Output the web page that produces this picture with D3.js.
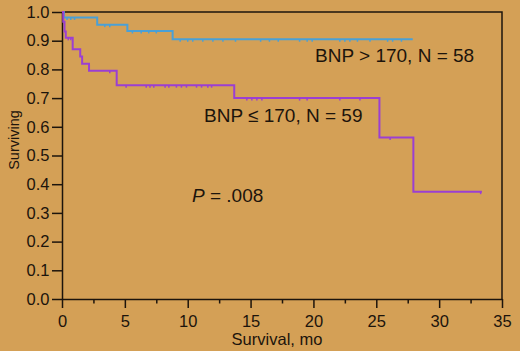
<!DOCTYPE html>
<html>
<head>
<meta charset="utf-8">
<script src="https://cdn.jsdelivr.net/npm/d3@7"></script>
<style>
  body { margin: 0; background: #d4a056; }
  svg { display: block; }
</style>
</head>
<body>
<div id="chart"></div>
<script>
var w = 520;
var h = 351;

var bg = "#d4a056";
var ink = "#1c140c";
var blue = "#4aa0d6";
var purple = "#9b3fd2";

// BNP > 170 (N = 58): step times and survival
var highTimes = [0, 0.15, 2.8, 5.2, 8.8];
var highSurv = [1.0, 0.981, 0.956, 0.934, 0.905];
var highEnd = 27.9;
var highCensor = [0.4, 0.7, 1.0, 3.4, 3.8, 5.6, 6.3, 6.9, 7.5, 9.4, 10.0, 10.4, 11.2, 12.0, 12.8,
                  13.8, 15.8, 16.5, 17.2, 18.9, 19.5, 19.9, 22.1, 22.5, 22.9, 23.5, 24.5, 25.9, 26.3, 27.0];

// BNP <= 170 (N = 59)
var lowTimes = [0, 0.1, 0.2, 0.3, 0.85, 1.45, 1.6, 2.15, 4.35, 13.7, 25.25, 27.95];
var lowSurv = [1.0, 0.966, 0.932, 0.91, 0.87, 0.845, 0.82, 0.795, 0.745, 0.70, 0.563, 0.374];
var lowEnd = 33.4;
var lowCensor = [0.5, 0.7, 3.8, 5.1, 6.7, 7.0, 7.3, 8.2, 8.5, 9.1, 9.5, 9.9, 10.7, 11.1, 11.6, 11.9,
                 14.7, 15.1, 15.5, 15.9, 18.9, 19.5, 22.1, 23.7, 26.1, 33.3];

var xMajor = [0, 5, 10, 15, 20, 25, 30, 35];
var xMinor = [2.5, 7.5, 12.5, 17.5, 22.5, 27.5, 32.5];
var yTicks = [0, 0.1, 0.2, 0.3, 0.4, 0.5, 0.6, 0.7, 0.8, 0.9, 1.0];

var xScale = d3.scaleLinear().domain([0, 35]).range([62, 502]);
var yScale = d3.scaleLinear().domain([0, 1]).range([299, 12]);

var svg = d3.select("#chart")
            .append("svg")
            .attr("width", w)
            .attr("height", h)
            .style("font-family", "'Liberation Sans', Arial, sans-serif");

svg.append("rect").attr("width", w).attr("height", h).attr("fill", bg);

// frame top + right
svg.append("path")
   .attr("d", "M" + xScale(0) + "," + yScale(1) + "H" + xScale(35) + "V" + yScale(0))
   .attr("fill", "none")
   .attr("stroke", ink)
   .attr("stroke-width", 1.5);

// axes
svg.append("g")
   .attr("transform", "translate(0," + yScale(0) + ")")
   .call(d3.axisBottom(xScale).tickValues(xMajor).tickSize(9).tickSizeOuter(0).tickPadding(7)
         .tickFormat(d3.format("d")));
svg.append("g")
   .attr("transform", "translate(0," + yScale(0) + ")")
   .call(d3.axisBottom(xScale).tickValues(xMinor).tickSize(4.5).tickSizeOuter(0).tickFormat(""))
   .select(".domain").remove();
svg.append("g")
   .attr("transform", "translate(" + xScale(0) + ",0)")
   .call(d3.axisLeft(yScale).tickValues(yTicks).tickSize(10).tickSizeOuter(0).tickPadding(2.5)
         .tickFormat(d3.format(".1f")));

svg.selectAll(".domain, .tick line").attr("stroke", ink).attr("stroke-width", 1.5);
svg.selectAll(".tick text").attr("fill", ink).attr("font-size", "16.5px")
   .attr("font-family", "'Liberation Sans', Arial, sans-serif");

// step curves
function stepData(times, surv, end) {
  var pts = times.map(function(t, i) { return [t, surv[i]]; });
  pts.push([end, surv[surv.length - 1]]);
  return pts;
}
function survAt(times, surv, t) {
  var s = surv[0];
  for (var i = 0; i < times.length; i++) { if (times[i] <= t) s = surv[i]; }
  return s;
}
var line = d3.line()
   .x(function(d) { return xScale(d[0]); })
   .y(function(d) { return yScale(d[1]); })
   .curve(d3.curveStepAfter);

var groups = [
  {times: highTimes, surv: highSurv, end: highEnd, censor: highCensor, color: blue},
  {times: lowTimes, surv: lowSurv, end: lowEnd, censor: lowCensor, color: purple}
];

groups.forEach(function(g) {
  svg.append("path")
     .datum(stepData(g.times, g.surv, g.end))
     .attr("d", line)
     .attr("fill", "none")
     .attr("stroke", g.color)
     .attr("stroke-width", 2);

  // censor marks
  svg.selectAll(null)
     .data(g.censor)
     .enter()
     .append("line")
     .attr("x1", function(d) { return xScale(d); })
     .attr("x2", function(d) { return xScale(d); })
     .attr("y1", function(d) { return yScale(survAt(g.times, g.surv, d)); })
     .attr("y2", function(d) { return yScale(survAt(g.times, g.surv, d)) + 2.5; })
     .attr("stroke", g.color)
     .attr("stroke-width", 1.5);
});

// labels
svg.append("text")
   .attr("x", 315).attr("y", 62)
   .attr("font-size", "19px").attr("fill", ink)
   .text("BNP > 170, N = 58");

svg.append("text")
   .attr("x", 204).attr("y", 121.5)
   .attr("font-size", "19px").attr("fill", ink)
   .text("BNP \u2264 170, N = 59");

var ptext = svg.append("text")
   .attr("x", 192).attr("y", 202)
   .attr("font-size", "19px").attr("fill", ink);
ptext.append("tspan").attr("font-style", "italic").text("P");
ptext.append("tspan").text(" = .008");

svg.append("text")
   .attr("x", 277).attr("y", 344.5)
   .attr("text-anchor", "middle")
   .attr("font-size", "16.5px").attr("fill", ink)
   .text("Survival, mo");

svg.append("text")
   .attr("transform", "translate(18.5,140) rotate(-90)")
   .attr("text-anchor", "middle")
   .attr("font-size", "14.5px").attr("fill", ink)
   .text("Surviving");
</script>
</body>
</html>
